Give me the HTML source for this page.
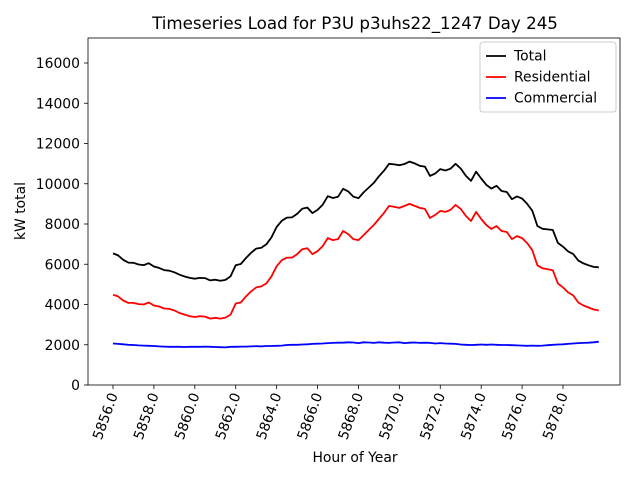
<!DOCTYPE html>
<html><head><meta charset="utf-8"><style>
body{margin:0;background:#fff;}
svg{display:block;font-family:"DejaVu Sans","Liberation Sans",sans-serif;}
</style></head><body>
<svg id="chart" width="640" height="480" viewBox="0 0 640 480">
<text x="355" y="29" font-size="16.7" text-anchor="middle">Timeseries Load for P3U p3uhs22_1247  Day 245</text>
<g id="plot"></g>
<text x="355" y="462" font-size="13.9" text-anchor="middle">Hour of Year</text>
<text transform="translate(25,211) rotate(-90)" font-size="13.9" text-anchor="middle">kW total</text>
</svg>
<script>
const startHour = 5856;
const stepHours = 0.25;
const yTicks = [0,2000,4000,6000,8000,10000,12000,14000,16000];
const xTicks = [5856,5858,5860,5862,5864,5866,5868,5870,5872,5874,5876,5878];
const totalValues = [6540,6440,6220,6080,6070,5990,5960,6050,5890,5820,5710,5680,5600,5480,5390,5320,5280,5320,5310,5200,5230,5180,5220,5400,5950,6010,6310,6570,6780,6820,6990,7340,7850,8160,8320,8330,8500,8760,8820,8540,8700,8960,9380,9290,9350,9750,9620,9360,9280,9570,9810,10040,10370,10650,10990,10960,10920,10980,11100,11010,10890,10850,10390,10510,10730,10660,10750,10990,10760,10400,10140,10600,10260,9950,9760,9900,9640,9590,9230,9370,9260,9000,8660,7900,7760,7730,7700,7060,6870,6640,6510,6180,6040,5950,5870,5850];
const residentialValues = [4480,4400,4200,4080,4080,4020,4000,4100,3950,3900,3800,3780,3700,3580,3500,3420,3380,3420,3400,3300,3340,3300,3350,3500,4050,4100,4400,4650,4850,4900,5050,5400,5900,6200,6330,6330,6500,6750,6800,6500,6650,6900,7300,7200,7250,7650,7500,7250,7200,7450,7700,7950,8250,8550,8900,8850,8800,8900,9000,8900,8800,8750,8300,8450,8650,8600,8700,8950,8750,8400,8150,8600,8250,7950,7750,7900,7650,7600,7250,7400,7300,7050,6700,5950,5800,5750,5700,5050,4850,4600,4450,4100,3950,3850,3750,3700];
const commercialValues = [2060,2040,2020,2000,1990,1970,1960,1950,1940,1920,1910,1900,1900,1900,1890,1900,1900,1900,1910,1900,1890,1880,1870,1900,1900,1910,1910,1920,1930,1920,1940,1940,1950,1960,1990,2000,2000,2010,2020,2040,2050,2060,2080,2090,2100,2100,2120,2110,2080,2120,2110,2090,2120,2100,2090,2110,2120,2080,2100,2110,2090,2100,2090,2060,2080,2060,2050,2040,2010,2000,1990,2000,2010,2000,2010,2000,1990,1990,1980,1970,1960,1950,1960,1950,1960,1980,2000,2010,2020,2040,2060,2080,2090,2100,2120,2150];

const L=88,R=620,T=38,B=385;
const xS=h=>113+(h-5856)*(450/22);
const yS=v=>B-v*(322/16000);
const NS='http://www.w3.org/2000/svg';
const g=document.getElementById('plot');
function mk(tag,attrs,parent){const e=document.createElementNS(NS,tag);for(const k in attrs)e.setAttribute(k,attrs[k]);(parent||g).appendChild(e);return e;}

yTicks.forEach(v=>{
  const y=yS(v);
  const t=mk('line',{x1:L-4,x2:L,y1:y,y2:y,stroke:'#000','stroke-width':0.8});
  
  
  const lb=mk('text',{x:L-8,y:y+5,'font-size':13.9,'text-anchor':'end'});
  lb.textContent=v;
  
  
});
xTicks.forEach(h=>{
  const x=xS(h);
  const t=mk('line',{x1:x,x2:x,y1:B,y2:B+4,stroke:'#000','stroke-width':0.8});
  
  
  const lb=mk('text',{transform:`translate(${x+5},${B+10}) rotate(-70)`,'font-size':13.9,'text-anchor':'end'});
  lb.textContent=h.toFixed(1);
  
  
});

function series(vals,color,name){
  const pts=vals.map((v,i)=>xS(startHour+i*stepHours).toFixed(1)+','+yS(v).toFixed(1)).join(' ');
  const p=mk('polyline',{points:pts,fill:'none',stroke:color,'stroke-width':1.8,'stroke-linejoin':'round'});
  
  
}
series(totalValues,'#000','total-line');
series(residentialValues,'#ff0000','residential-line');
series(commercialValues,'#0000ff','commercial-line');

const frame=mk('rect',{x:L,y:T,width:R-L,height:B-T,fill:'none',stroke:'#000','stroke-width':0.8});



const lg=mk('g',{});


mk('rect',{x:480,y:42,width:136,height:70,rx:3,fill:'#fff',stroke:'#ccc','stroke-width':1},lg);
[['Total','#000'],['Residential','#ff0000'],['Commercial','#0000ff']].forEach((e,i)=>{
  const y=56+i*21;
  const ln=mk('line',{x1:486,x2:506,y1:y,y2:y,stroke:e[1],'stroke-width':1.8},lg);
  
  
  const tx=mk('text',{x:514,y:y+4.5,'font-size':13.9},lg);
  tx.textContent=e[0];
  
  
});
</script>
</body></html>
